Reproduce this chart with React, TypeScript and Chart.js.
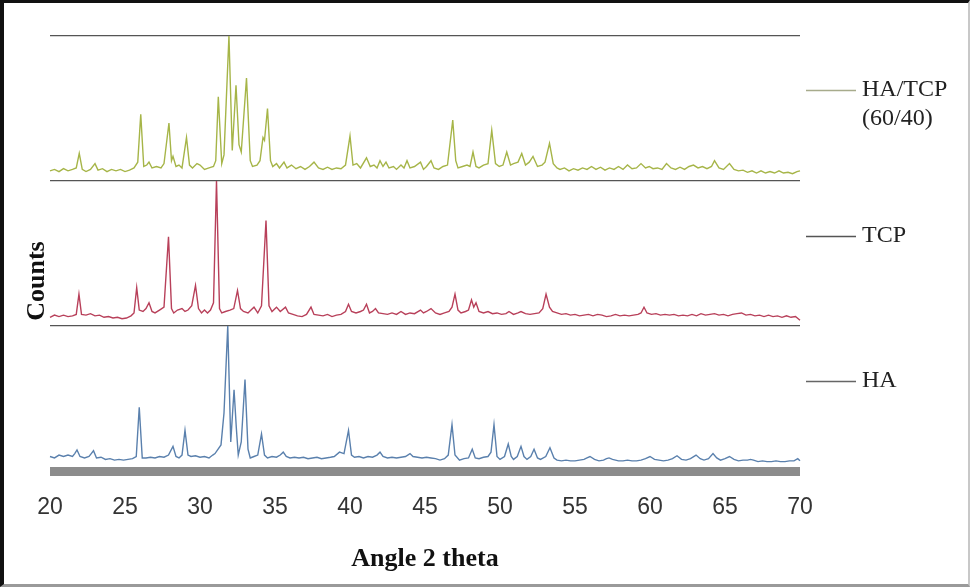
import React, { useEffect, useRef } from "react";
import { Chart, registerables } from "chart.js";

Chart.register(...registerables);

// ---- data (2θ in degrees, intensity in % of each trace's panel height) ----
const angleTicks = [20, 25, 30, 35, 40, 45, 50, 55, 60, 65, 70];
const seriesLabels = ["HA/TCP", "TCP", "HA"];
const mixNote = "(60/40)";
const xTitle = "Angle 2 theta";
const yTitle = "Counts";

const mixPattern: [number, number][] = [
  [20.0, 7], [20.3, 8], [20.6, 6.5], [20.9, 8.5], [21.2, 7], [21.5, 8], [21.75, 9], [21.95, 19], [22.15, 8],
  [22.4, 6.5], [22.7, 8], [23.0, 12], [23.2, 7.5], [23.5, 8.5], [23.8, 6.5], [24.1, 8], [24.4, 7], [24.7, 8],
  [25.0, 6.5], [25.3, 7.5], [25.6, 9], [25.85, 13], [26.05, 46], [26.25, 10], [26.45, 11], [26.6, 13], [26.8, 9],
  [27.1, 10], [27.4, 9], [27.6, 12], [27.93, 40], [28.1, 14], [28.2, 17], [28.4, 10], [28.6, 11], [28.8, 9],
  [29.1, 30], [29.3, 11], [29.5, 9], [29.8, 12], [30.0, 11], [30.3, 8], [30.6, 9], [30.9, 10], [31.05, 14],
  [31.22, 58], [31.45, 12], [31.6, 18], [31.93, 100], [32.15, 21], [32.4, 66], [32.6, 25], [32.75, 20],
  [33.1, 71], [33.35, 14], [33.5, 10], [33.8, 11], [34.0, 14], [34.2, 30], [34.3, 28], [34.5, 50], [34.7, 14],
  [34.85, 10], [35.1, 12], [35.3, 9], [35.6, 13], [35.8, 9], [36.1, 11], [36.4, 8.5], [36.7, 10], [37.0, 8],
  [37.3, 10], [37.6, 13], [37.9, 9], [38.2, 8], [38.5, 9.5], [38.8, 8], [39.1, 9], [39.4, 8.5], [39.7, 11],
  [40.0, 31], [40.2, 11], [40.45, 12], [40.7, 9], [41.1, 16], [41.35, 10], [41.6, 11], [41.8, 9], [42.0, 14],
  [42.2, 10], [42.4, 13], [42.6, 9], [42.9, 10], [43.1, 8], [43.4, 11], [43.6, 9], [43.8, 14], [44.0, 9],
  [44.3, 10], [44.7, 13], [44.9, 8], [45.1, 10], [45.4, 14], [45.6, 9], [45.9, 8], [46.2, 10], [46.5, 11],
  [46.85, 42], [47.05, 14], [47.2, 9], [47.5, 10], [47.8, 11], [48.0, 10], [48.2, 20], [48.4, 10], [48.6, 9],
  [48.9, 11], [49.2, 12], [49.45, 35], [49.7, 12], [49.95, 10], [50.2, 11], [50.45, 20], [50.7, 11], [50.9, 12],
  [51.2, 13], [51.45, 19], [51.7, 11], [51.95, 13], [52.2, 17], [52.5, 10], [52.8, 11], [53.0, 13], [53.3, 26],
  [53.55, 12], [53.8, 9], [54.0, 8], [54.3, 9], [54.6, 7], [54.9, 8.5], [55.2, 7.5], [55.5, 9], [55.8, 8],
  [56.1, 10], [56.4, 8], [56.7, 9.5], [57.0, 7.5], [57.3, 9], [57.6, 8], [57.9, 10], [58.2, 8], [58.5, 11],
  [58.8, 8.5], [59.1, 9], [59.4, 12], [59.7, 9], [59.95, 10], [60.2, 8.5], [60.5, 9], [60.8, 8], [61.1, 12],
  [61.4, 9], [61.7, 8], [62.0, 9.5], [62.3, 8], [62.6, 10], [62.9, 11], [63.2, 9], [63.5, 10], [63.8, 8.5],
  [64.1, 10], [64.3, 14], [64.6, 9], [64.9, 8], [65.3, 12], [65.6, 8], [65.9, 7], [66.2, 7.5], [66.5, 6],
  [66.8, 7], [67.1, 5.5], [67.4, 7], [67.7, 5.5], [68.0, 6.5], [68.3, 5.5], [68.6, 7], [68.9, 5.5], [69.2, 6],
  [69.5, 5], [69.8, 6.5], [70.0, 7],
];

const tcpPattern: [number, number][] = [
  [20.0, 6], [20.3, 7.5], [20.6, 6.5], [20.9, 7.5], [21.2, 6.5], [21.5, 7], [21.75, 8], [21.93, 22], [22.1, 8],
  [22.4, 7.5], [22.7, 8.5], [23.0, 7], [23.3, 7.5], [23.6, 6], [23.9, 6.5], [24.2, 5.5], [24.5, 6], [24.8, 5],
  [25.1, 5.5], [25.4, 7], [25.6, 9], [25.78, 26.5], [25.95, 11], [26.2, 10], [26.4, 12], [26.6, 16], [26.8, 10],
  [27.0, 9], [27.3, 11], [27.6, 13], [27.9, 61.5], [28.1, 12], [28.25, 9], [28.5, 11], [28.8, 12], [29.0, 10],
  [29.2, 11], [29.45, 14], [29.7, 28], [29.9, 12], [30.1, 9], [30.3, 11], [30.5, 9], [30.7, 11], [30.9, 16],
  [31.1, 100], [31.3, 12], [31.45, 9], [31.7, 10], [32.0, 11], [32.25, 12], [32.5, 24.5], [32.7, 12], [32.9, 10],
  [33.2, 9], [33.4, 11], [33.6, 13], [33.85, 9], [34.1, 14], [34.4, 72.7], [34.6, 14], [34.8, 10], [35.1, 13],
  [35.35, 10], [35.7, 13], [35.9, 9], [36.2, 8], [36.5, 7], [36.8, 6.5], [37.1, 8], [37.4, 13], [37.6, 8],
  [37.9, 7.5], [38.2, 7], [38.5, 8], [38.8, 6.5], [39.1, 7.5], [39.4, 8], [39.7, 10], [39.9, 15], [40.1, 10],
  [40.4, 9], [40.7, 10], [40.9, 11], [41.1, 15], [41.3, 9], [41.5, 10], [41.7, 12], [41.9, 9], [42.2, 8.5],
  [42.5, 8], [42.8, 9], [43.1, 8], [43.4, 10], [43.7, 8], [44.0, 9], [44.3, 8.5], [44.7, 11], [44.9, 9],
  [45.1, 10], [45.4, 12], [45.7, 9], [46.0, 8], [46.3, 9], [46.6, 10], [46.8, 13], [47.0, 22], [47.2, 11],
  [47.4, 9], [47.7, 10], [47.9, 11], [48.1, 18], [48.25, 13], [48.4, 16], [48.6, 10], [48.9, 9], [49.2, 10],
  [49.5, 8.5], [49.8, 9], [50.1, 8], [50.4, 8.5], [50.6, 10], [50.9, 8], [51.2, 9], [51.4, 10], [51.7, 8.5],
  [52.0, 8], [52.3, 8.5], [52.6, 9], [52.85, 12], [53.07, 22], [53.3, 13], [53.5, 10], [53.8, 9], [54.1, 8],
  [54.4, 8.5], [54.7, 7.5], [55.0, 8], [55.3, 7], [55.6, 7.5], [55.9, 8], [56.2, 7], [56.5, 8], [56.8, 7.5],
  [57.1, 6.5], [57.4, 7], [57.7, 8], [58.0, 7], [58.3, 7.5], [58.6, 7], [58.9, 7.5], [59.2, 8], [59.4, 9],
  [59.6, 13], [59.8, 9], [60.1, 8], [60.4, 8.5], [60.7, 7.5], [61.0, 8], [61.3, 7.5], [61.6, 8], [61.9, 7],
  [62.2, 7.5], [62.5, 7], [62.8, 8], [63.1, 7], [63.4, 8.5], [63.7, 7.5], [64.0, 8], [64.3, 8.5], [64.6, 7.5],
  [64.9, 8], [65.2, 7], [65.5, 8], [65.8, 8.5], [66.1, 9], [66.4, 7.5], [66.7, 8], [67.0, 7], [67.3, 7.5],
  [67.6, 6.5], [67.9, 7.5], [68.2, 6.5], [68.5, 7], [68.8, 6], [69.1, 7], [69.4, 6], [69.7, 6.5], [70.0, 4],
];

const haPattern: [number, number][] = [
  [20.0, 10], [20.3, 9], [20.6, 11], [20.9, 10], [21.2, 11], [21.5, 10], [21.65, 12], [21.8, 14.5], [22.0, 10],
  [22.3, 9], [22.6, 10], [22.75, 12], [22.9, 14], [23.1, 9], [23.4, 9.5], [23.7, 8], [24.0, 8.5], [24.3, 7.5],
  [24.6, 8], [24.9, 7.5], [25.2, 8], [25.5, 8.5], [25.75, 10], [25.95, 44], [26.15, 9], [26.4, 9], [26.7, 9.5],
  [27.0, 9], [27.3, 10], [27.6, 9.5], [27.9, 11], [28.2, 17], [28.4, 10], [28.6, 9], [28.8, 11], [29.0, 28],
  [29.2, 11], [29.4, 10], [29.7, 10.5], [30.0, 9.5], [30.3, 10], [30.6, 9], [30.85, 11], [31.0, 12], [31.4, 18],
  [31.6, 40], [31.85, 100], [32.05, 20], [32.27, 56], [32.42, 30], [32.55, 11], [32.75, 20], [33.0, 63],
  [33.2, 15], [33.35, 9], [33.6, 10], [33.85, 11], [34.1, 25.5], [34.3, 11], [34.5, 9], [34.8, 10], [35.1, 9.5],
  [35.35, 11], [35.55, 13], [35.75, 10], [36.0, 9], [36.3, 9.5], [36.6, 9], [36.9, 9.5], [37.2, 8.5], [37.5, 9],
  [37.8, 9.5], [38.1, 8.5], [38.4, 9], [38.7, 9.5], [38.95, 10], [39.3, 13], [39.6, 12], [39.9, 28], [40.1, 11],
  [40.3, 9.5], [40.6, 10], [40.9, 9], [41.2, 10], [41.5, 9.5], [41.8, 11], [42.0, 13], [42.2, 10], [42.5, 9],
  [42.8, 9.5], [43.1, 9], [43.4, 9.5], [43.7, 10], [44.0, 12], [44.2, 10], [44.5, 9.5], [44.8, 9], [45.1, 9.5],
  [45.4, 9], [45.7, 8.5], [46.0, 7.5], [46.3, 8.5], [46.55, 11], [46.8, 32], [47.0, 11], [47.3, 7.5], [47.6, 8.5],
  [47.9, 9], [48.15, 15], [48.35, 9], [48.6, 8.5], [48.9, 9.5], [49.2, 10], [49.4, 13], [49.6, 32], [49.8, 10],
  [50.0, 8], [50.3, 10], [50.55, 18.6], [50.75, 10], [50.9, 8], [51.15, 10], [51.4, 17], [51.6, 10], [51.8, 8],
  [52.05, 10], [52.27, 15], [52.5, 9], [52.7, 8], [53.05, 10], [53.33, 16], [53.6, 9], [53.8, 7.5], [54.1, 7],
  [54.4, 7.5], [54.7, 7], [55.0, 7], [55.3, 7.5], [55.6, 8], [55.8, 9], [56.0, 10], [56.3, 8], [56.6, 7],
  [56.9, 7.5], [57.1, 8.5], [57.27, 9], [57.5, 8], [57.9, 7], [58.2, 7], [58.5, 7.5], [58.8, 7], [59.1, 7],
  [59.4, 7.5], [59.7, 8.5], [60.0, 10], [60.3, 8], [60.6, 7.5], [60.9, 7], [61.2, 7.5], [61.5, 8.5], [61.8, 10.5],
  [62.1, 8], [62.4, 7.5], [62.7, 8.5], [63.07, 11], [63.35, 8.5], [63.6, 7.5], [63.9, 8.5], [64.2, 12],
  [64.45, 9], [64.7, 7.5], [65.0, 8.5], [65.3, 10], [65.6, 8], [65.9, 7], [66.2, 7.5], [66.5, 7.5], [66.7, 8],
  [66.9, 7.5], [67.2, 6.5], [67.5, 7], [67.8, 6.5], [68.1, 6.5], [68.4, 7], [68.7, 6.5], [69.0, 6.5], [69.3, 7],
  [69.6, 7], [69.85, 8.5], [70.0, 7],
];

// ---- styles ----
const COLORS = { mix: "#a6b548", tcp: "#b8405a", ha: "#5a80ad" };
const LEGEND_LINE = { mix: "#a7ab8c", tcp: "#555555", ha: "#666666" };
const SEP = "#555555";
const BAR = "#8c8c8c";

const toXY = (arr: [number, number][]) => arr.map(([x, y]) => ({ x, y }));

const overlayPlugin = {
  id: "overlay",
  afterDraw(chart: any) {
    const ctx: CanvasRenderingContext2D = chart.ctx;
    ctx.save();
    // y title
    ctx.save();
    ctx.translate(33, 278);
    ctx.rotate(-Math.PI / 2);
    ctx.font = 'bold 26px "Liberation Serif", serif';
    ctx.fillStyle = "#111";
    ctx.textAlign = "center";
    ctx.textBaseline = "middle";
    ctx.fillText(yTitle, 0, 0);
    ctx.restore();

    // legend
    const entries = [
      { lines: [seriesLabels[0], mixNote], color: LEGEND_LINE.mix, y: 87 },
      { lines: [seriesLabels[1]], color: LEGEND_LINE.tcp, y: 233 },
      { lines: [seriesLabels[2]], color: LEGEND_LINE.ha, y: 378 },
    ];
    ctx.font = '24px "Liberation Serif", serif';
    ctx.textAlign = "left";
    ctx.textBaseline = "middle";
    for (const e of entries) {
      ctx.strokeStyle = e.color;
      ctx.lineWidth = 1.3;
      ctx.beginPath();
      ctx.moveTo(802, e.y + 0.5);
      ctx.lineTo(852, e.y + 0.5);
      ctx.stroke();
      ctx.fillStyle = "#222";
      e.lines.forEach((t, i) => ctx.fillText(t, 858, e.y + i * 29));
    }
    ctx.restore();
  },
};

export default function App() {
  const ref = useRef<HTMLCanvasElement | null>(null);

  useEffect(() => {
    if (!ref.current) return;
    const zeroAxis = (min: number, max: number, lines: { v: number; c: string; w: number }[]) => ({
      type: "linear" as const,
      position: "left" as const,
      min,
      max,
      ticks: { display: false, stepSize: 100 },
      border: { display: false },
      grid: {
        drawTicks: false,
        color: (c: any) => {
          const l = lines.find((q) => q.v === c.tick?.value);
          return l ? l.c : "rgba(0,0,0,0)";
        },
        lineWidth: (c: any) => {
          const l = lines.find((q) => q.v === c.tick?.value);
          return l ? l.w : 1;
        },
      },
      afterFit: (s: any) => {
        s.width = 0;
      },
    });

    const chart = new Chart(ref.current, {
      type: "line",
      data: {
        datasets: [
          { label: seriesLabels[0], data: toXY(mixPattern), yAxisID: "yMix", borderColor: COLORS.mix, borderWidth: 1.4, pointRadius: 0, clip: false as any },
          { label: seriesLabels[1], data: toXY(tcpPattern), yAxisID: "yTcp", borderColor: COLORS.tcp, borderWidth: 1.4, pointRadius: 0, clip: false as any },
          { label: seriesLabels[2], data: toXY(haPattern), yAxisID: "yHa", borderColor: COLORS.ha, borderWidth: 1.4, pointRadius: 0, clip: false as any },
        ],
      },
      options: {
        animation: false,
        responsive: true,
        maintainAspectRatio: false,
        layout: { padding: { left: 46, right: 168, top: 33, bottom: 0 } },
        plugins: { legend: { display: false }, tooltip: { enabled: false } },
        scales: {
          x: {
            type: "linear",
            min: angleTicks[0],
            max: angleTicks[angleTicks.length - 1],
            afterBuildTicks: (s: any) => {
              s.ticks = angleTicks.map((v) => ({ value: v }));
            },
            ticks: {
              font: { family: '"Liberation Sans", sans-serif', size: 23 },
              color: "#333",
              padding: 23,
              maxRotation: 0,
              autoSkip: false,
            },
            grid: { display: false, drawTicks: false },
            border: { display: false },
            title: {
              display: true,
              text: xTitle,
              font: { family: '"Liberation Serif", serif', size: 26, weight: "bold" },
              color: "#111",
              padding: { top: 0, bottom: 9 },
            },
            afterFit: (s: any) => {
              s.height = 113;
            },
          },
          yHa: zeroAxis(0, 300, [{ v: 0, c: BAR, w: 9 }]),
          yTcp: zeroAxis(-100, 200, [{ v: 0, c: SEP, w: 1.2 }]),
          yMix: zeroAxis(-200, 100, [
            { v: 0, c: SEP, w: 1.2 },
            { v: 100, c: SEP, w: 1.2 },
          ]),
        },
      } as any,
      plugins: [overlayPlugin],
    });
    return () => chart.destroy();
  }, []);

  return (
    <div
      style={{
        position: "fixed",
        left: 0,
        top: 0,
        width: 970,
        height: 587,
        boxSizing: "border-box",
        borderTop: "3px solid #111",
        borderLeft: "4px solid #111",
        borderRight: "2px solid #c8c8c8",
        borderBottom: "3px solid #9a9a9a",
        background: "#fff",
      }}
    >
      <div style={{ position: "relative", width: "100%", height: "100%" }}>
        <canvas ref={ref} />
      </div>
    </div>
  );
}
